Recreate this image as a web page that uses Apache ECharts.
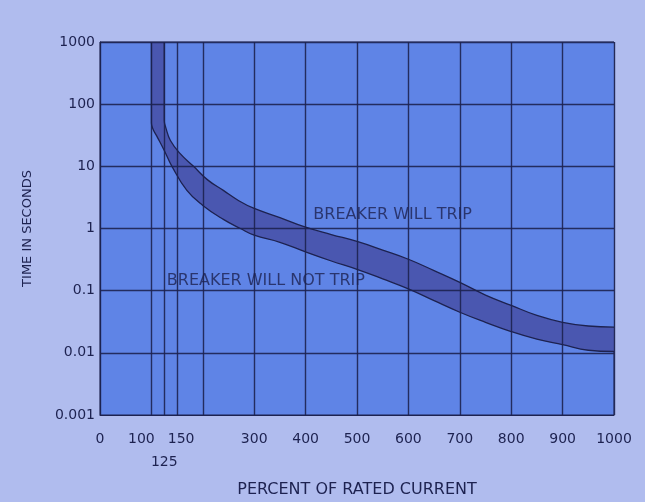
<!DOCTYPE html>
<html>
<head>
<meta charset="utf-8">
<script src="https://cdn.jsdelivr.net/npm/echarts@6/dist/echarts.min.js"></script>
<style>
  html, body { margin: 0; padding: 0; background: #b0bcee; }
  #chart { width: 645px; height: 502px; }
</style>
</head>
<body>
<div id="chart"></div>
<script>
// percent of rated current -> time in seconds
const tripCurve = [
  [125, 1000], [125, 55], [128, 42], [137, 26], [156, 16], [182, 10],
  [210, 6], [240, 4.1], [270, 2.8], [300, 2.1], [350, 1.5], [400, 1.05],
  [450, 0.8], [500, 0.62], [550, 0.45], [600, 0.32], [650, 0.21],
  [700, 0.136], [750, 0.085], [800, 0.058], [850, 0.04], [900, 0.031],
  [950, 0.027], [1000, 0.026]
]
const noTripCurve = [
  [100, 1000], [100, 50], [103, 40], [112, 29], [125, 18], [140, 10],
  [169, 4.1], [200, 2.35], [240, 1.4], [273, 1.0], [300, 0.78], [350, 0.6],
  [400, 0.42], [450, 0.3], [500, 0.22], [550, 0.155], [600, 0.107],
  [650, 0.069], [700, 0.045], [750, 0.031], [800, 0.022], [850, 0.0166],
  [900, 0.0135], [950, 0.011], [1000, 0.0105]
]
const xGridLines = [0, 100, 125, 150, 200, 300, 400, 500, 600, 700, 800, 900, 1000]
const yGridLines = [0.001, 0.01, 0.1, 1, 10, 100, 1000]
const xLabelValues = [0, 100, 125, 150, 300, 400, 500, 600, 700, 800, 900, 1000]
const yTickLabels = ['0.001', '0.01', '0.1', '1', '10', '100', '1000']
const notes = [
  [415, 1.68, 'BREAKER WILL TRIP'],
  [130, 0.145, 'BREAKER WILL NOT TRIP']
]

const ink = '#1d2250'
const plotBg = '#5f84e6'
const bandColor = '#4a57b0'
const font = 'DejaVu Sans'

const chart = echarts.init(document.getElementById('chart'))

// 100 和 150 靠得太近，标签左右错开一点
const xLabel = v => {
  if (v === 100) return '{l|100}'
  if (v === 150) return '{r|150}'
  if (v === 125) return '\n125'
  return String(v)
}

const option = {
  backgroundColor: '#b0bcee',
  animation: false,
  grid: {
    left: 100, right: 31, top: 42, bottom: 87,
    outerBoundsMode: 'none',
    show: true,
    backgroundColor: plotBg,
    borderColor: ink,
    borderWidth: 1
  },
  xAxis: {
    type: 'value',
    min: 0,
    max: 1000,
    name: 'PERCENT OF RATED CURRENT',
    nameLocation: 'middle',
    nameGap: 67,
    nameTextStyle: { color: ink, fontFamily: font, fontSize: 16 },
    axisLine: { lineStyle: { color: ink } },
    axisTick: { show: false },
    splitLine: { show: false },
    axisLabel: {
      customValues: xLabelValues,
      margin: 13,
      color: ink,
      fontFamily: font,
      fontSize: 14,
      lineHeight: 23,
      formatter: xLabel,
      rich: {
        l: { fontFamily: font, fontSize: 14, color: ink, padding: [0, 20, 0, 0] },
        r: { fontFamily: font, fontSize: 14, color: ink, padding: [0, 0, 0, 8] }
      }
    }
  },
  yAxis: {
    type: 'log',
    logBase: 10,
    min: 0.001,
    max: 1000,
    name: 'TIME IN SECONDS',
    nameLocation: 'middle',
    nameGap: 66,
    nameTextStyle: { color: ink, fontFamily: font, fontSize: 13 },
    axisLine: { show: true, lineStyle: { color: ink } },
    axisTick: { show: false },
    splitLine: { show: false },
    axisLabel: {
      margin: 5,
      color: ink,
      fontFamily: font,
      fontSize: 14,
      formatter: v => yTickLabels[Math.round(Math.log10(v)) + 3]
    }
  },
  series: [
    {
      // lower edge, everything above it painted in the band colour
      name: 'noTrip',
      type: 'line',
      data: noTripCurve,
      smooth: 0.45,
      symbol: 'none',
      lineStyle: { color: ink, width: 1.3 },
      areaStyle: { color: bandColor, opacity: 1, origin: 'end' },
      z: 2
    },
    {
      // upper edge, repaints the plot colour above the band
      name: 'trip',
      type: 'line',
      data: tripCurve,
      smooth: 0.45,
      symbol: 'none',
      lineStyle: { color: ink, width: 1.3 },
      areaStyle: { color: plotBg, opacity: 1, origin: 'end' },
      z: 3
    },
    {
      name: 'notes',
      type: 'scatter',
      data: notes,
      symbolSize: 0,
      z: 5,
      label: {
        show: true,
        position: 'right',
        distance: 0,
        color: ink,
        fontFamily: font,
        fontSize: 16,
        formatter: p => p.value[2]
      },
      markLine: {
        silent: true,
        symbol: 'none',
        label: { show: false },
        lineStyle: { color: ink, width: 1.4, type: 'solid', opacity: 0.9 },
        data: [
          ...xGridLines.map(v => ({ xAxis: v })),
          ...yGridLines.map(v => ({ yAxis: v }))
        ]
      }
    }
  ]
}

chart.setOption(option)
</script>
</body>
</html>
